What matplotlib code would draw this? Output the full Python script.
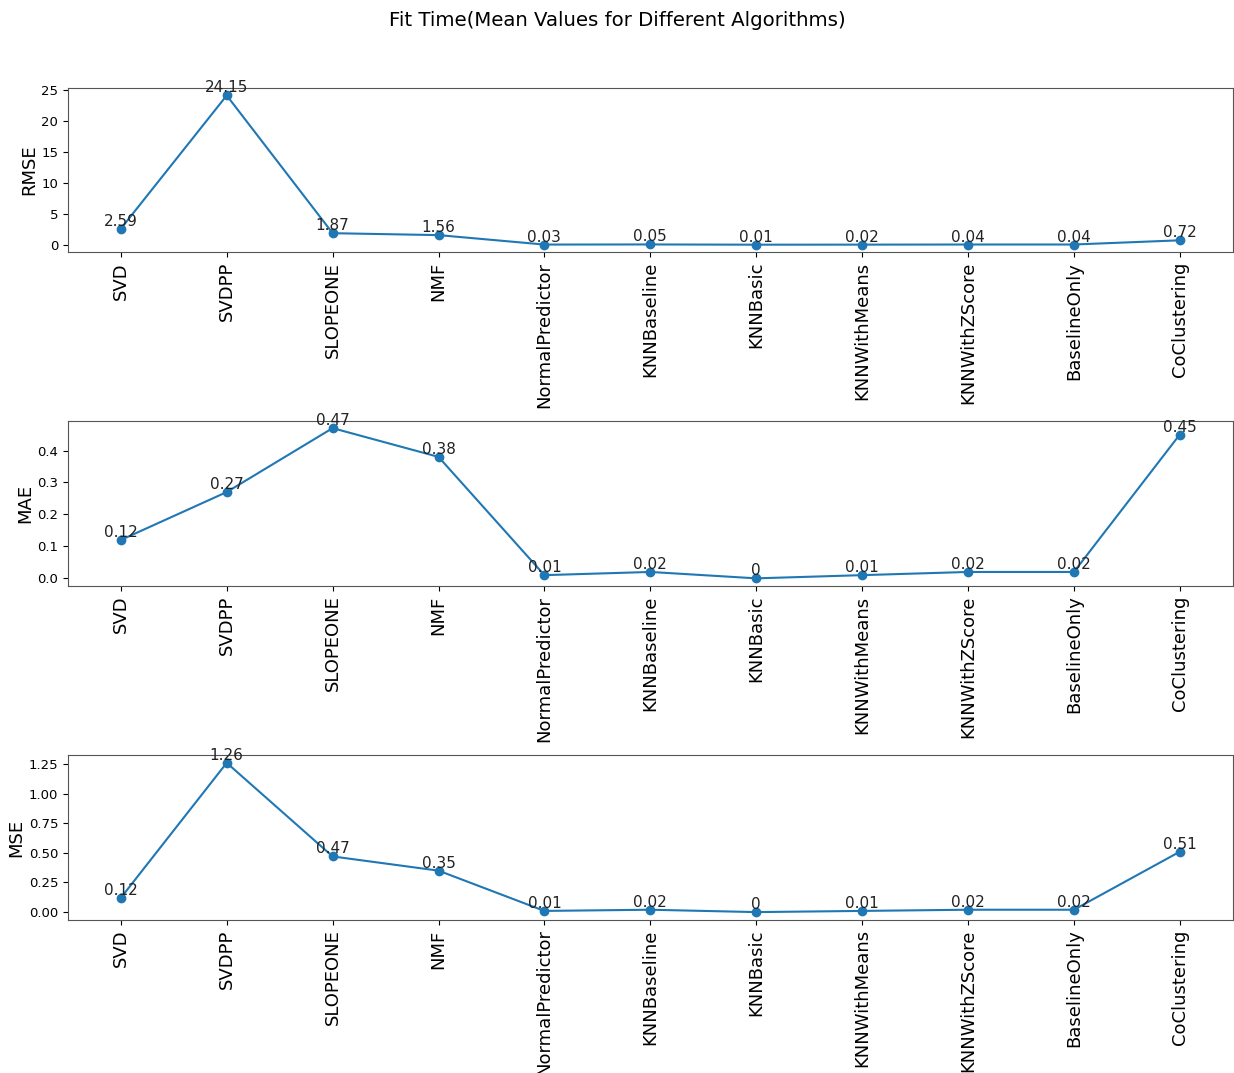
import matplotlib
matplotlib.use("Agg")
import matplotlib.pyplot as plt

algorithms = ["SVD", "SVDPP", "SLOPEONE", "NMF", "NormalPredictor", "KNNBaseline",
              "KNNBasic", "KNNWithMeans", "KNNWithZScore", "BaselineOnly", "CoClustering"]
rmse = [2.59, 24.15, 1.87, 1.56, 0.03, 0.05, 0.01, 0.02, 0.04, 0.04, 0.72]
mae = [0.12, 0.27, 0.47, 0.38, 0.01, 0.02, 0, 0.01, 0.02, 0.02, 0.45]
mse = [0.12, 1.26, 0.47, 0.35, 0.01, 0.02, 0, 0.01, 0.02, 0.02, 0.51]
title = "Fit Time(Mean Values for Different Algorithms)"

series = [("RMSE", rmse), ("MAE", mae), ("MSE", mse)]

fig = plt.figure(figsize=(12.34, 10.73), dpi=100)
fig.suptitle(title, fontsize=14.2, y=0.99)

left, width = 0.055, 0.944
boxes = [(0.765, 0.153), (0.454, 0.154), (0.143, 0.153)]

for (name, vals), (b, h) in zip(series, boxes):
    ax = fig.add_axes([left, b, width, h])
    ax.plot(algorithms, vals, marker="o", color="#1f77b4", markersize=6, linewidth=1.5)
    for i, v in enumerate(vals):
        ax.text(i, v, f"{v:g}", ha="center", va="bottom", fontsize=11, color="#222222")
    ax.set_ylabel(name, fontsize=13, labelpad=2)
    ax.tick_params(axis="x", labelrotation=90, labelsize=13)
    ax.tick_params(axis="y", labelsize=9.5)
    for s in ax.spines.values():
        s.set_color("#555555")

fig.savefig("out.png", dpi=100)
